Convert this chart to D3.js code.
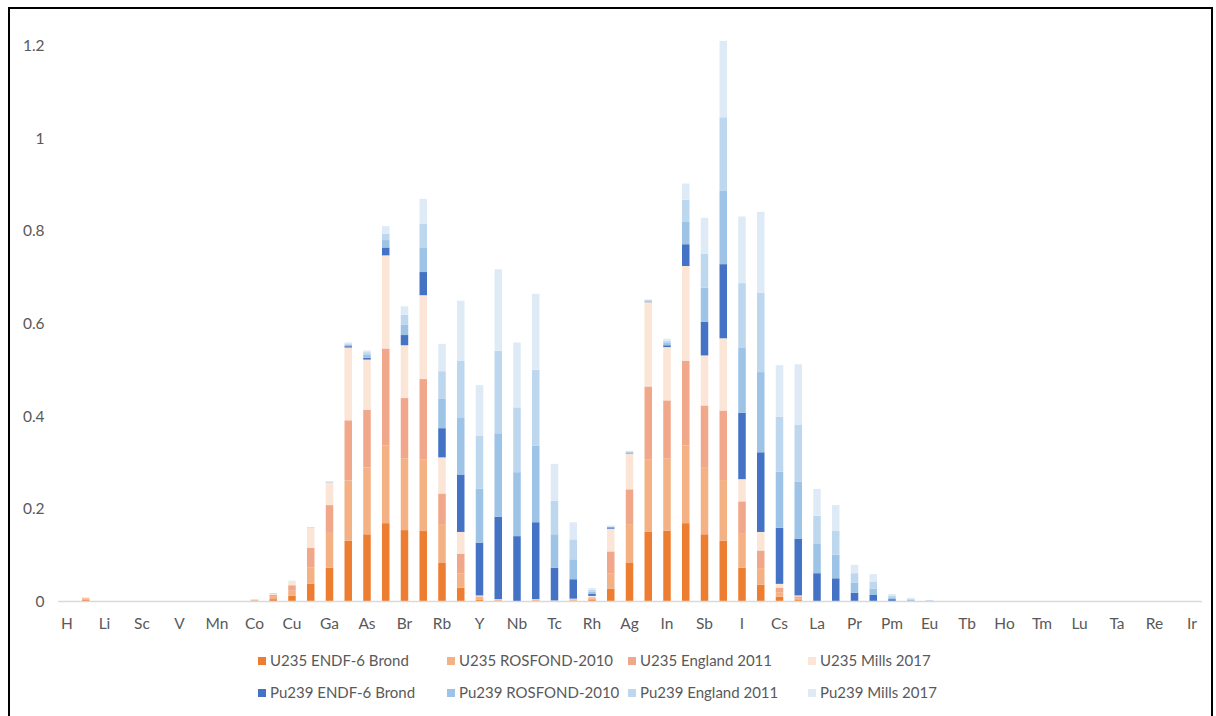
<!DOCTYPE html>
<html>
<head>
    <title>Fission yields by element</title>
    <script src="https://cdnjs.cloudflare.com/ajax/libs/d3/7.8.5/d3.min.js"></script>
    <style>
        body {
            margin: 0;
            background: #fff;
        }

        text {
            font-family: Lato, "Open Sans", sans-serif;
            fill: #595959;
        }

        .tick-label {
            font-size: 15.5px;
        }

        .legend text {
            font-size: 15px;
        }
    </style>
</head>
<body>
<svg id="chart"></svg>

<script>
    const width = 1216;
    const height = 716;

    const elements = [
        "H", "He", "Li", "Be", "Sc", "Ti", "V", "Cr", "Mn", "Fe",
        "Co", "Ni", "Cu", "Zn", "Ga", "Ge", "As", "Se", "Br", "Kr",
        "Rb", "Sr", "Y", "Zr", "Nb", "Mo", "Tc", "Ru", "Rh", "Pd",
        "Ag", "Cd", "In", "Sn", "Sb", "Te", "I", "Xe", "Cs", "Ba",
        "La", "Ce", "Pr", "Nd", "Pm", "Sm", "Eu", "Gd", "Tb", "Dy",
        "Ho", "Er", "Tm", "Yb", "Lu", "Hf", "Ta", "W", "Re", "Os", "Ir"
    ];

    const yTicks = [0, 0.2, 0.4, 0.6, 0.8, 1, 1.2];

    const seriesNames = [
        "U235 ENDF-6 Brond", "U235 ROSFOND-2010", "U235 England 2011", "U235 Mills 2017",
        "Pu239 ENDF-6 Brond", "Pu239 ROSFOND-2010", "Pu239 England 2011", "Pu239 Mills 2017"
    ];

    const seriesColors = [
        "#ED7D31", "#F4B183", "#F1A78A", "#FBE5D6",
        "#4472C4", "#9DC3E6", "#BDD7EE", "#DEEBF7"
    ];

    // one value per element, same order as `elements`
    const u235Endf = [
        0, 0.002, 0, 0, 0, 0, 0, 0, 0, 0,
        0.001, 0.004, 0.011, 0.037, 0.072, 0.130, 0.144, 0.168, 0.153, 0.151,
        0.082, 0.029, 0.003, 0.001, 0, 0.001, 0, 0.001, 0.002, 0.027,
        0.082, 0.150, 0.152, 0.168, 0.144, 0.130, 0.072, 0.035, 0.009, 0.002,
        0, 0, 0, 0, 0, 0, 0, 0, 0, 0,
        0, 0, 0, 0, 0, 0, 0, 0, 0, 0, 0
    ];
    const u235Rosfond = [
        0, 0.002, 0, 0, 0, 0, 0, 0, 0, 0,
        0.001, 0.005, 0.011, 0.036, 0.075, 0.130, 0.144, 0.168, 0.155, 0.155,
        0.084, 0.030, 0.004, 0.001, 0, 0.001, 0, 0.002, 0.003, 0.032,
        0.084, 0.155, 0.155, 0.168, 0.145, 0.131, 0.073, 0.036, 0.010, 0.004,
        0, 0, 0, 0, 0, 0, 0, 0, 0, 0,
        0, 0, 0, 0, 0, 0, 0, 0, 0, 0, 0
    ];
    const u235England = [
        0, 0.002, 0, 0, 0, 0, 0, 0, 0, 0,
        0.001, 0.004, 0.012, 0.042, 0.060, 0.130, 0.125, 0.209, 0.130, 0.173,
        0.066, 0.043, 0.003, 0.001, 0, 0.001, 0, 0.001, 0.003, 0.048,
        0.075, 0.158, 0.126, 0.182, 0.133, 0.150, 0.070, 0.038, 0.010, 0.004,
        0, 0, 0, 0, 0, 0, 0, 0, 0, 0,
        0, 0, 0, 0, 0, 0, 0, 0, 0, 0, 0
    ];
    const u235Mills = [
        0, 0.002, 0, 0, 0, 0, 0, 0, 0, 0,
        0, 0.003, 0.009, 0.043, 0.049, 0.157, 0.108, 0.201, 0.114, 0.181,
        0.078, 0.047, 0.002, 0.001, 0, 0.001, 0.001, 0.001, 0.003, 0.049,
        0.077, 0.182, 0.115, 0.205, 0.108, 0.156, 0.048, 0.040, 0.008, 0.002,
        0, 0, 0, 0, 0, 0, 0, 0, 0, 0,
        0, 0, 0, 0, 0, 0, 0, 0, 0, 0, 0
    ];
    const pu239Endf = [
        0, 0, 0, 0, 0, 0, 0, 0, 0, 0,
        0, 0, 0, 0, 0, 0.003, 0.004, 0.017, 0.022, 0.050,
        0.063, 0.124, 0.114, 0.178, 0.140, 0.166, 0.071, 0.042, 0.005, 0.003,
        0.001, 0.001, 0.004, 0.047, 0.073, 0.160, 0.143, 0.172, 0.121, 0.122,
        0.060, 0.049, 0.018, 0.013, 0.004, 0.001, 0.0005, 0, 0, 0,
        0, 0, 0, 0, 0, 0, 0, 0, 0, 0, 0
    ];
    const pu239Rosfond = [
        0, 0, 0, 0, 0, 0, 0, 0, 0, 0,
        0, 0.001, 0, 0.001, 0.001, 0.003, 0.006, 0.016, 0.022, 0.052,
        0.063, 0.122, 0.116, 0.180, 0.138, 0.165, 0.072, 0.043, 0.004, 0.001,
        0.002, 0.002, 0.005, 0.048, 0.073, 0.158, 0.140, 0.173, 0.121, 0.124,
        0.063, 0.051, 0.022, 0.014, 0.004, 0.002, 0.0005, 0, 0, 0,
        0, 0, 0, 0, 0, 0, 0, 0, 0, 0, 0
    ];
    const pu239England = [
        0, 0, 0, 0, 0, 0, 0, 0, 0, 0,
        0, 0, 0, 0, 0.001, 0.003, 0.006, 0.014, 0.022, 0.052,
        0.060, 0.123, 0.114, 0.178, 0.140, 0.164, 0.072, 0.043, 0.004, 0.001,
        0.002, 0.002, 0.005, 0.048, 0.073, 0.159, 0.140, 0.171, 0.119, 0.123,
        0.061, 0.051, 0.020, 0.014, 0.004, 0.002, 0.0005, 0, 0, 0,
        0, 0, 0, 0, 0, 0, 0, 0, 0, 0, 0
    ];
    const pu239Mills = [
        0, 0, 0, 0, 0, 0, 0, 0, 0, 0,
        0.001, 0, 0.001, 0.001, 0.001, 0.002, 0.004, 0.016, 0.018, 0.054,
        0.059, 0.130, 0.110, 0.176, 0.140, 0.164, 0.080, 0.037, 0.004, 0.002,
        0.001, 0.001, 0.004, 0.035, 0.078, 0.165, 0.144, 0.175, 0.111, 0.130,
        0.058, 0.056, 0.018, 0.017, 0.003, 0.002, 0.0005, 0, 0, 0,
        0, 0, 0, 0, 0, 0, 0, 0, 0, 0, 0
    ];

    const seriesValues = [
        u235Endf, u235Rosfond, u235England, u235Mills,
        pu239Endf, pu239Rosfond, pu239England, pu239Mills
    ];

    const plot = { left: 57.6, right: 1201.4, top: 45, bottom: 601 };

    const svg = d3.select("#chart")
        .attr("width", width)
        .attr("height", height);

    svg.append("rect")
        .attr("x", 9)
        .attr("y", 8)
        .attr("width", 1203)
        .attr("height", 760)
        .attr("fill", "none")
        .attr("stroke", "#000")
        .attr("stroke-width", 2);

    const rows = elements.map((el, i) => {
        const row = { element: el };
        seriesNames.forEach((name, s) => row[name] = seriesValues[s][i]);
        return row;
    });

    const stacked = d3.stack().keys(seriesNames)(rows);

    const x = d3.scaleBand()
        .domain(elements)
        .range([plot.left, plot.right])
        .paddingInner(0.6)
        .paddingOuter(0.3);

    const y = d3.scaleLinear()
        .domain([0, 1.2])
        .range([plot.bottom, plot.top]);

    const color = d3.scaleOrdinal()
        .domain(seriesNames)
        .range(seriesColors);

    // y axis: labels only, no line
    const yAxis = svg.append("g")
        .attr("transform", `translate(${plot.left - 13},0)`)
        .call(d3.axisLeft(y).tickValues(yTicks).tickSize(0).tickPadding(0).tickFormat(d3.format("")));
    yAxis.select(".domain").remove();
    yAxis.selectAll("text")
        .attr("class", "tick-label")
        .attr("fill", "#595959")
        .attr("dy", "0.35em");

    // bars
    svg.append("g")
        .selectAll("g")
        .data(stacked)
        .join("g")
        .attr("fill", d => color(d.key))
        .selectAll("rect")
        .data(d => d)
        .join("rect")
        .attr("x", d => x(d.data.element))
        .attr("y", d => y(d[1]))
        .attr("height", d => y(d[0]) - y(d[1]))
        .attr("width", x.bandwidth());

    // category axis, every second label
    const xAxis = svg.append("g")
        .attr("transform", `translate(0,${plot.bottom})`)
        .call(d3.axisBottom(x)
            .tickValues(elements.filter((d, i) => i % 2 === 0))
            .tickSize(0)
            .tickPadding(23));
    xAxis.select(".domain")
        .attr("stroke", "#D9D9D9")
        .attr("stroke-width", 1.3);
    xAxis.selectAll("text")
        .attr("class", "tick-label")
        .attr("fill", "#595959")
        .attr("dy", "0.35em");

    // legend, two rows of four
    const legendCols = [258, 447, 628, 808];
    const legendRows = [661, 693];

    const legend = svg.append("g")
        .attr("class", "legend")
        .selectAll("g")
        .data(seriesNames)
        .join("g")
        .attr("transform", (d, i) => `translate(${legendCols[i % 4]},${legendRows[Math.floor(i / 4)]})`);

    legend.append("rect")
        .attr("x", 0)
        .attr("y", -4)
        .attr("width", 8)
        .attr("height", 8)
        .attr("fill", d => color(d));

    legend.append("text")
        .attr("x", 12)
        .attr("dy", "0.35em")
        .text(d => d);
</script>
</body>
</html>
